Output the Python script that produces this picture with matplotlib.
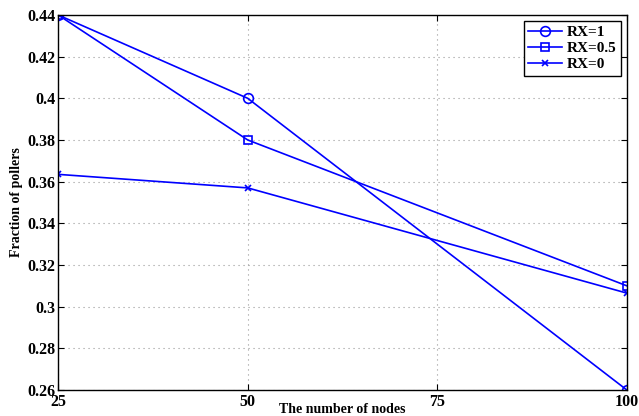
import matplotlib
matplotlib.use("Agg")
import matplotlib.pyplot as plt

nodes = [25, 50, 100]
rx1 = [0.44, 0.40, 0.26]
rx05 = [0.44, 0.38, 0.31]
rx0 = [0.3635, 0.357, 0.3065]
labels = ["RX=1", "RX=0.5", "RX=0"]

plt.rcParams['font.family'] = ['Liberation Serif', 'DejaVu Serif']
plt.rcParams['font.weight'] = 'bold'

fig = plt.figure(figsize=(6.39, 4.16), dpi=100)
ax = fig.add_axes([0.091, 0.0625, 0.89, 0.9015])

blue = '#0000ff'
ax.plot(nodes, rx1, '-o', color=blue, lw=1.2, ms=7, mfc='none', mew=1.2, label=labels[0])
ax.plot(nodes, rx05, '-s', color=blue, lw=1.2, ms=6, mfc='none', mew=1.2, label=labels[1])
ax.plot(nodes, rx0, '-x', color=blue, lw=1.2, ms=5, mew=1.2, label=labels[2])

ax.set_xlim(25, 100)
ax.set_ylim(0.26, 0.44)
ax.set_xticks([25, 50, 75, 100])
ax.set_xticklabels(['25', '50', '75', '100'])
yt = [0.26, 0.28, 0.30, 0.32, 0.34, 0.36, 0.38, 0.40, 0.42, 0.44]
ax.set_yticks(yt)
ax.set_yticklabels(['0.26', '0.28', '0.3', '0.32', '0.34', '0.36', '0.38', '0.4', '0.42', '0.44'])
ax.tick_params(direction='in', top=True, right=True, labelsize=11.5, length=4)
ax.tick_params(axis='x', pad=3)
ax.tick_params(axis='y', pad=2)
for lab in ax.get_xticklabels() + ax.get_yticklabels():
    lab.set_fontweight('bold')

ax.grid(True, linestyle=(0, (1, 3.5)), color='#999999', lw=0.8)
for s in ax.spines.values():
    s.set_linewidth(1.0)

ax.set_xlabel('The number of nodes', fontsize=10, fontweight='bold', labelpad=-5)
ax.set_ylabel('Fraction of pollers', fontsize=10, fontweight='bold', labelpad=3)

leg = ax.legend(loc='upper right', fontsize=11, fancybox=False, framealpha=1,
                edgecolor='black', borderpad=0.3, labelspacing=0.15, handlelength=2.2,
                handletextpad=0.3, borderaxespad=0.4)
leg.get_frame().set_linewidth(1.0)
for t in leg.get_texts():
    t.set_fontweight('bold')

fig.savefig('out.png', dpi=100)
